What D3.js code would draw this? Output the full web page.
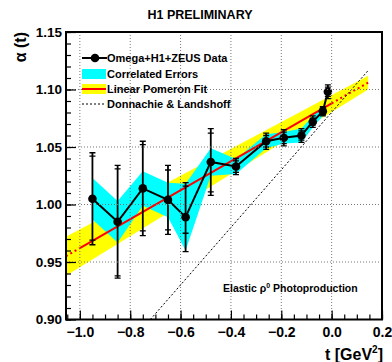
<!DOCTYPE html>
<html><head><meta charset="utf-8">
<script src="https://cdn.jsdelivr.net/npm/d3@7/dist/d3.min.js"></script>
<style>
html,body{margin:0;padding:0;background:#fff;}
svg{display:block;}
text{font-family:"Liberation Sans",Arial,Helvetica,sans-serif;font-weight:bold;fill:#000;}
</style></head>
<body><svg id="c" width="392" height="362"></svg>
<script>
// ---- data ----
const tValues   = [-0.95, -0.85, -0.75, -0.65, -0.58, -0.48, -0.38, -0.26, -0.19, -0.12, -0.075, -0.035, -0.015];
const alphaVals = [1.005, 0.985, 1.014, 1.004, 0.989, 1.037, 1.033, 1.055, 1.058, 1.060, 1.072, 1.081, 1.098];
const totErr    = [0.040, 0.049, 0.041, 0.030, 0.030, 0.029, 0.007, 0.007, 0.007, 0.006, 0.005, 0.004, 0.006];
const statHi    = [0.037, 0.046, 0.038, 0.026, 0.027, 0.025, 0.005, 0.005, 0.005, 0.004, 0.003, 0.003, 0.004];
const statLo    = [0.036, 0.047, 0.037, 0.026, 0.014, 0.026, 0.005, 0.005, 0.005, 0.004, 0.003, 0.003, 0.004];
const corrErr   = [0.018, 0.018, 0.015, 0.015, 0.029, 0.012, 0.0065, 0.006, 0.005, 0.006, 0.005, 0.004];
// linear pomeron fit (endpoints) and its band edges
const fitT      = [-1.055, -1.0, 0.0, 0.145];
const fitAlpha  = [0.955, 0.962, 1.088, 1.106];
const bandT     = [-1.055, 0.145];
const bandHi    = [0.972, 1.112];
const bandLo    = [0.938, 1.100];
// Donnachie & Landshoff
const dlT       = [-0.72, 0.147];
const dlAlpha   = [0.900, 1.117];
// axes
const xTicks    = [-1.0, -0.8, -0.6, -0.4, -0.2, 0.0, 0.2];
const yTicks    = [0.90, 0.95, 1.00, 1.05, 1.10, 1.15];
const legendLabels = ["Omega+H1+ZEUS Data", "Correlated Errors", "Linear Pomeron Fit", "Donnachie & Landshoff"];

const svg = d3.select("#c");
const L = 66, R = 382, T = 32, B = 319.5;
const x = d3.scaleLinear().domain([-1.055, 0.2]).range([L, R]);
const y = d3.scaleLinear().domain([0.90, 1.15]).range([B, T]);

svg.append("defs").append("clipPath").attr("id","clip")
  .append("rect").attr("x",L).attr("y",T).attr("width",R-L).attr("height",B-T);
const plot = svg.append("g").attr("clip-path","url(#clip)");

// yellow fit band
const bandPts = bandT.map((t,i)=>[x(t), y(bandHi[i])]).concat(bandT.map((t,i)=>[x(t), y(bandLo[i])]).reverse());
plot.append("path").attr("d", d3.line()(bandPts) + "Z").attr("fill","#ffff00");

// cyan correlated band
const nC = corrErr.length;
const upper = d3.range(nC).map(i=>[x(tValues[i]), y(alphaVals[i]+corrErr[i])]);
const lower = d3.range(nC).map(i=>[x(tValues[i]), y(alphaVals[i]-corrErr[i])]).reverse();
plot.append("path").attr("d", d3.line()(upper.concat(lower)) + "Z").attr("fill","#00ffff");

// grid
const grid = svg.append("g");
xTicks.filter(t=>t>-1.05 && t<0.2).forEach(t=>{
  grid.append("line").attr("x1",x(t)).attr("x2",x(t)).attr("y1",T).attr("y2",B)
    .attr("stroke","#777").attr("stroke-width",1).attr("stroke-dasharray","1,2");
});
yTicks.filter(v=>v>0.9 && v<1.15).forEach(v=>{
  grid.append("line").attr("x1",L).attr("x2",R).attr("y1",y(v)).attr("y2",y(v))
    .attr("stroke","#777").attr("stroke-width",1).attr("stroke-dasharray","1,2");
});

// red fit line: dotted outside data range, solid inside
const ln = d3.line().x(d=>x(d[0])).y(d=>y(d[1]));
plot.append("path").attr("d", ln([[fitT[0],fitAlpha[0]],[fitT[1],fitAlpha[1]]]))
  .attr("stroke","#ff0000").attr("stroke-width",2).attr("stroke-dasharray","2,3").attr("fill","none");
plot.append("path").attr("d", ln([[fitT[1],fitAlpha[1]],[fitT[2],fitAlpha[2]]]))
  .attr("stroke","#ff0000").attr("stroke-width",2).attr("fill","none");
plot.append("path").attr("d", ln([[fitT[2],fitAlpha[2]],[fitT[3],fitAlpha[3]]]))
  .attr("stroke","#ff0000").attr("stroke-width",2).attr("stroke-dasharray","2,3").attr("fill","none");

// DL line
plot.append("path").attr("d", ln([[dlT[0],dlAlpha[0]],[dlT[1],dlAlpha[1]]]))
  .attr("stroke","#000").attr("stroke-width",1).attr("stroke-dasharray","2,2").attr("fill","none");

// data: connecting line
const data = tValues.map((t,i)=>({t, a:alphaVals[i], tot:totErr[i], sh:statHi[i], sl:statLo[i]}));
plot.append("path").attr("d", ln(data.map(d=>[d.t,d.a])))
  .attr("stroke","#000").attr("stroke-width",2).attr("fill","none");
// error bars
const eb = plot.append("g").attr("stroke","#000").attr("stroke-width",1.8);
data.forEach(d=>{
  const cx = x(d.t);
  eb.append("line").attr("x1",cx).attr("x2",cx).attr("y1",y(d.a+d.tot)).attr("y2",y(d.a-d.tot));
  [d.a+d.tot, d.a-d.tot, d.a+d.sh, d.a-d.sl].forEach(v=>{
    eb.append("line").attr("x1",cx-3).attr("x2",cx+3).attr("y1",y(v)).attr("y2",y(v)).attr("stroke-width",1.3);
  });
});
plot.append("g").selectAll("circle").data(data).join("circle")
  .attr("cx",d=>x(d.t)).attr("cy",d=>y(d.a)).attr("r",4.3).attr("fill","#000");

// axes with inside ticks
const xMinor = d3.range(-1.05, 0.2001, 0.05);
const yMinor = d3.range(0.90, 1.1501, 0.01);
const gx = svg.append("g").attr("transform",`translate(0,${B})`)
  .call(d3.axisBottom(x).tickValues(xMinor).tickSize(-5).tickFormat(""));
const gx2 = svg.append("g").attr("transform",`translate(0,${B})`)
  .call(d3.axisBottom(x).tickValues(xTicks).tickSize(-9).tickPadding(8).tickFormat(d3.format(".1f")));
const gy = svg.append("g").attr("transform",`translate(${L},0)`)
  .call(d3.axisLeft(y).tickValues(yMinor).tickSize(-5).tickFormat(""));
const gy2 = svg.append("g").attr("transform",`translate(${L},0)`)
  .call(d3.axisLeft(y).tickValues(yTicks).tickSize(-10).tickPadding(4).tickFormat(d3.format(".2f")));
[gx,gx2,gy,gy2].forEach(g=>{
  g.select(".domain").remove();
  g.selectAll(".tick line").attr("stroke","#000").attr("stroke-width",1.2);
});
gx2.selectAll(".tick text").attr("font-size",14).attr("font-family","Liberation Sans, Arial, sans-serif")
  .attr("font-weight","bold").text(d=>d3.format(".1f")(d).replace("-","-"));
gy2.selectAll(".tick text").attr("font-size",13.5).attr("font-family","Liberation Sans, Arial, sans-serif")
  .attr("font-weight","bold");

// frame
svg.append("rect").attr("x",L).attr("y",T).attr("width",R-L).attr("height",B-T)
  .attr("fill","none").attr("stroke","#000").attr("stroke-width",2);

// titles
svg.append("text").attr("x",200).attr("y",19).attr("text-anchor","middle").attr("font-size",12.5).text("H1 PRELIMINARY");
svg.append("text").attr("transform","translate(26,32) rotate(-90)").attr("text-anchor","end")
  .attr("font-size",16).text("α (t)");
const xt = svg.append("text").attr("x",383).attr("y",360).attr("text-anchor","end").attr("font-size",16);
xt.append("tspan").text("t [GeV");
xt.append("tspan").attr("font-size",10).attr("dy",-7).text("2");
xt.append("tspan").attr("dy",7).text("]");

const el = svg.append("text").attr("x",223).attr("y",292).attr("font-size",10.5);
el.append("tspan").text("Elastic ρ");
el.append("tspan").attr("font-size",7).attr("dy",-4).text("0");
el.append("tspan").attr("dy",4).text(" Photoproduction");

// legend
const lg = svg.append("g");
const ly = [58, 74, 89, 104];
lg.append("line").attr("x1",82).attr("x2",107).attr("y1",ly[0]).attr("y2",ly[0]).attr("stroke","#000").attr("stroke-width",2);
lg.append("circle").attr("cx",95).attr("cy",ly[0]).attr("r",4.3).attr("fill","#000");
lg.append("rect").attr("x",82).attr("y",ly[1]-5).attr("width",24).attr("height",10).attr("fill","#00ffff");
lg.append("rect").attr("x",82).attr("y",ly[2]-5).attr("width",24).attr("height",10).attr("fill","#ffff00");
lg.append("line").attr("x1",82).attr("x2",106).attr("y1",ly[2]).attr("y2",ly[2]).attr("stroke","#ff0000").attr("stroke-width",2);
lg.append("line").attr("x1",82).attr("x2",106).attr("y1",ly[3]).attr("y2",ly[3]).attr("stroke","#000").attr("stroke-width",1).attr("stroke-dasharray","2,2");
legendLabels.forEach((s,i)=>{
  lg.append("text").attr("x",107).attr("y",ly[i]+4).attr("font-size",11).text(s);
});
</script></body></html>
